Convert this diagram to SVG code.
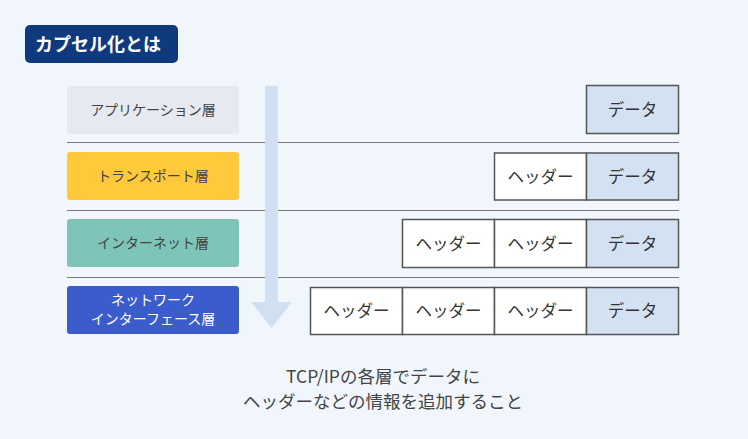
<svg xmlns="http://www.w3.org/2000/svg" width="748" height="439" viewBox="0 0 748 439">
<style>
text{font-family:"Noto Sans CJK JP","Noto Sans",sans-serif;}
.lt{font-size:14px;fill:#444;text-anchor:middle;}
.lw{font-size:14px;fill:#fff;text-anchor:middle;}
.c{font-size:16.5px;fill:#333;text-anchor:middle;}
.hd{fill:#fff;stroke:#555;stroke-width:1.5;}
.dt{fill:#d3e2f3;stroke:#555;stroke-width:1.5;}
.sep{stroke:#777;stroke-width:1.2;}
.ft{font-size:17.5px;fill:#444;text-anchor:middle;}
</style>
<rect x="0" y="0" width="748" height="439" fill="#f1f6fd"/>
<g id="title">
<rect x="25" y="25" width="153" height="38" rx="5" fill="#103a7e"/>
<text x="35" y="51" font-size="18" font-weight="bold" fill="#fff">カプセル化とは</text>
</g>
<g id="connectors">
<line class="sep" x1="67" y1="142.5" x2="679" y2="142.5"/>
<line class="sep" x1="67" y1="210.5" x2="679" y2="210.5"/>
<line class="sep" x1="67" y1="277.5" x2="679" y2="277.5"/>
<path d="M265 86 H278 V302 H292 L271.5 328 L251 302 H265 Z" fill="#cfe0f2"/>
</g>
<g id="layer-app">
<rect x="67" y="86" width="172" height="48" rx="3" fill="#e6e9f0"/>
<text class="lt" x="153" y="115">アプリケーション層</text>
</g>
<g id="layer-transport">
<rect x="67" y="152" width="172" height="48" rx="3" fill="#ffc93b"/>
<text class="lt" x="153" y="181">トランスポート層</text>
</g>
<g id="layer-internet">
<rect x="67" y="219" width="172" height="48" rx="3" fill="#7ec4b9"/>
<text class="lt" x="153" y="248">インターネット層</text>
</g>
<g id="layer-netif">
<rect x="67" y="286" width="172" height="48" rx="3" fill="#3b5ccc"/>
<text class="lw" x="153" y="305">ネットワーク</text>
<text class="lw" x="153" y="324">インターフェース層</text>
</g>
<g id="packet-app">
<rect class="dt" x="586.5" y="85.5" width="92" height="48"/>
<text class="c" x="632.5" y="115.5">データ</text>
</g>
<g id="packet-transport">
<rect class="hd" x="494.5" y="153" width="92" height="47"/>
<text class="c" x="540.5" y="182.5">ヘッダー</text>
<rect class="dt" x="586.5" y="153" width="92" height="47"/>
<text class="c" x="632.5" y="182.5">データ</text>
</g>
<g id="packet-internet">
<rect class="hd" x="402.5" y="219.5" width="92" height="48"/>
<text class="c" x="448.5" y="249.5">ヘッダー</text>
<rect class="hd" x="494.5" y="219.5" width="92" height="48"/>
<text class="c" x="540.5" y="249.5">ヘッダー</text>
<rect class="dt" x="586.5" y="219.5" width="92" height="48"/>
<text class="c" x="632.5" y="249.5">データ</text>
</g>
<g id="packet-netif">
<rect class="hd" x="310.5" y="287.5" width="92" height="47"/>
<text class="c" x="356.5" y="316.5">ヘッダー</text>
<rect class="hd" x="402.5" y="287.5" width="92" height="47"/>
<text class="c" x="448.5" y="316.5">ヘッダー</text>
<rect class="hd" x="494.5" y="287.5" width="92" height="47"/>
<text class="c" x="540.5" y="316.5">ヘッダー</text>
<rect class="dt" x="586.5" y="287.5" width="92" height="47"/>
<text class="c" x="632.5" y="316.5">データ</text>
</g>
<g id="caption">
<text class="ft" x="383" y="383">TCP/IPの各層でデータに</text>
<text class="ft" x="383" y="408">ヘッダーなどの情報を追加すること</text>
</g>
</svg>
